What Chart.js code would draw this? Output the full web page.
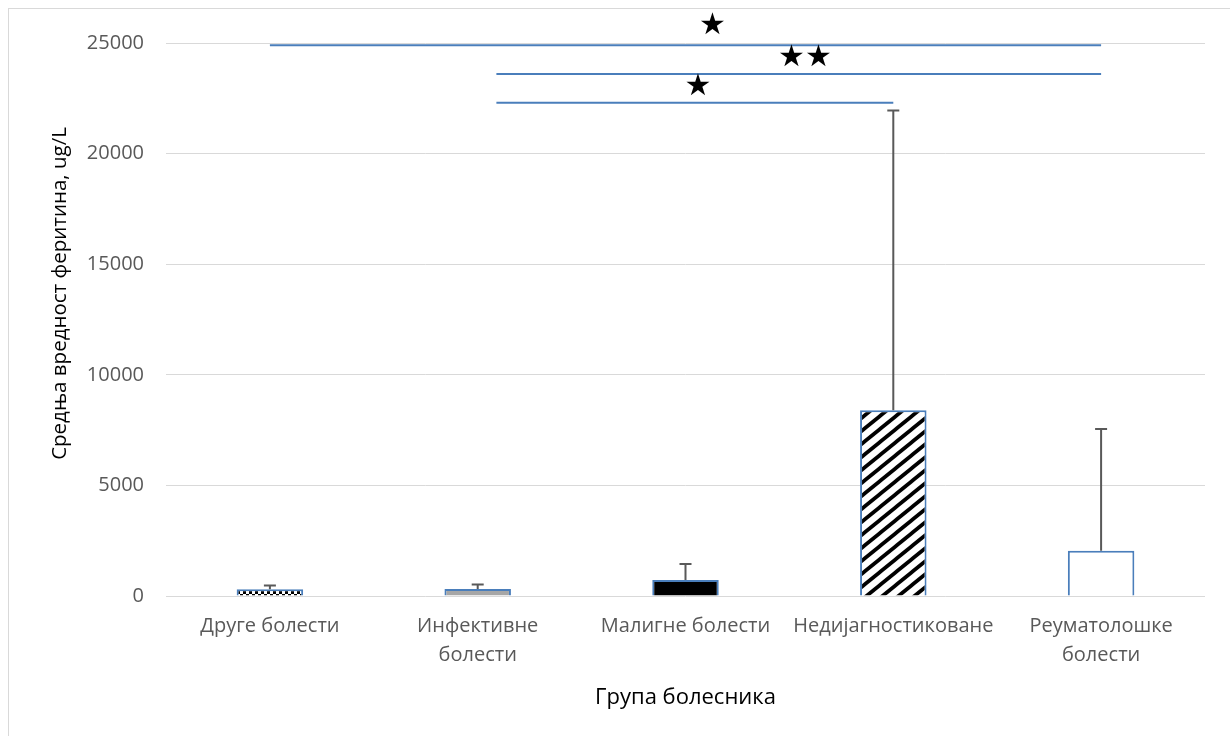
<!DOCTYPE html>
<html>
<head>
<meta charset="utf-8">
<script src="https://cdn.jsdelivr.net/npm/chart.js@4.4.0/dist/chart.umd.min.js"></script>
<style>
  html, body { margin: 0; padding: 0; background: #fff; overflow: hidden; }
  #frame { position: absolute; left: 8px; top: 8px; width: 1300px; height: 800px;
           border-left: 1px solid #d9d9d9; border-top: 1px solid #d9d9d9; }
  #wrap { position: absolute; left: 0; top: 0; width: 1230px; height: 736px; }
</style>
</head>
<body>
<div id="frame"></div>
<div id="wrap"><canvas id="chart"></canvas></div>
<script>
// Data
var categories = ['Друге болести', ['Инфективне', 'болести'], 'Малигне болести', 'Недијагностиковане', ['Реуматолошке', 'болести']];
var means = [300, 320, 720, 8400, 2050];
var errTops = [480, 520, 1450, 21950, 7550];
var yTicks = [0, 5000, 10000, 15000, 20000, 25000];
var yTitle = 'Средња вредност феритина, ug/L';
// significance brackets: from / to category index, y value
var sigFrom = [0, 1.09, 1.09];
var sigTo = [4, 4, 3];
var sigY = [24900, 23600, 22300];
// star marks: category position, y value
var starX = [2.13, 2.51, 2.64, 2.06];
var starY = [25750, 24300, 24300, 23000];

function makePattern(kind) {
    var c = document.createElement('canvas');
    var g = c.getContext('2d');
    if (kind === 'dots') {
        c.width = 6; c.height = 6;
        g.fillStyle = '#fff'; g.fillRect(0, 0, 6, 6);
        g.fillStyle = '#000';
        g.fillRect(0, 0, 3, 3);
        g.fillRect(3, 3, 3, 3);
    } else {
        // diagonal stripes, 13 px vertical period
        var w = 16, h = 13, t = 2.4;
        c.width = w; c.height = h;
        g.fillStyle = '#fff'; g.fillRect(0, 0, w, h);
        g.fillStyle = '#000';
        for (var k = -1; k <= 1; k++) {
            var o = h * k;
            g.beginPath();
            g.moveTo(0, h + o - t);
            g.lineTo(w, o - t);
            g.lineTo(w, o + t);
            g.lineTo(0, h + o + t);
            g.closePath();
            g.fill();
        }
    }
    return g.createPattern(c, 'repeat');
}

var fills = [makePattern('dots'), '#a6a6a6', '#000000', makePattern('stripes'), '#ffffff'];

var overlay = {
    id: 'overlay',
    afterDatasetsDraw: function (chart) {
        var ctx = chart.ctx, x = chart.scales.x, y = chart.scales.y;
        ctx.save();
        // error bars
        ctx.strokeStyle = '#595959';
        ctx.lineWidth = 2;
        for (var i = 0; i < means.length; i++) {
            var px = x.getPixelForValue(i);
            ctx.beginPath();
            ctx.moveTo(px, y.getPixelForValue(means[i]));
            ctx.lineTo(px, y.getPixelForValue(errTops[i]));
            ctx.moveTo(px - 6, y.getPixelForValue(errTops[i]));
            ctx.lineTo(px + 6, y.getPixelForValue(errTops[i]));
            ctx.stroke();
        }
        // significance lines
        ctx.strokeStyle = '#4a7ebb';
        ctx.lineWidth = 2;
        for (var j = 0; j < sigY.length; j++) {
            ctx.beginPath();
            ctx.moveTo(x.getPixelForValue(sigFrom[j]), y.getPixelForValue(sigY[j]));
            ctx.lineTo(x.getPixelForValue(sigTo[j]), y.getPixelForValue(sigY[j]));
            ctx.stroke();
        }
        ctx.fillStyle = '#000';
        ctx.font = '30px "DejaVu Sans"';
        ctx.textAlign = 'center';
        ctx.textBaseline = 'middle';
        for (var k = 0; k < starX.length; k++) {
            ctx.fillText('★', x.getPixelForValue(starX[k]), y.getPixelForValue(starY[k]));
        }
        // y axis title (sits a bit above the plot middle, like the original)
        ctx.translate(60, (chart.chartArea.top + chart.chartArea.bottom) / 2 - 26);
        ctx.rotate(-Math.PI / 2);
        ctx.font = '20.5px "Open Sans"';
        ctx.fillText(yTitle, 0, 0);
        ctx.restore();
    }
};

var ctx = document.getElementById('chart').getContext('2d');
var myChart = new Chart(ctx, {
    type: 'bar',
    data: {
        labels: categories,
        datasets: [{
            data: means,
            backgroundColor: fills,
            borderColor: '#4a7ebb',
            borderWidth: 2,
            barPercentage: 0.32,
            categoryPercentage: 1
        }]
    },
    options: {
        responsive: true,
        maintainAspectRatio: false,
        animation: false,
        layout: { padding: { left: 0, right: 25, top: 43, bottom: 0 } },
        plugins: { legend: { display: false }, tooltip: { enabled: false } },
        scales: {
            x: {
                grid: { display: false, drawTicks: false },
                border: { display: false },
                ticks: {
                    color: '#595959',
                    font: { family: 'Open Sans', size: 20, lineHeight: 1.45 },
                    padding: 16,
                    maxRotation: 0,
                    autoSkip: false
                },
                title: {
                    display: true,
                    text: 'Група болесника',
                    color: '#000',
                    font: { family: 'Open Sans', size: 22 },
                    padding: { top: 0, bottom: 25 }
                },
                afterFit: function (s) { s.height = 140; }
            },
            y: {
                min: 0,
                max: 25000,
                grid: { color: '#d9d9d9', lineWidth: 1, drawTicks: false },
                border: { display: false },
                afterBuildTicks: function (s) {
                    s.ticks = yTicks.map(function (v) { return { value: v }; });
                },
                ticks: {
                    color: '#595959',
                    font: { family: 'Open Sans', size: 20 },
                    padding: 22,
                    callback: function (v) { return String(v); }
                },
                title: { display: false },
                afterFit: function (s) { s.width = 166; }
            }
        }
    },
    plugins: [overlay]
});
</script>
</body>
</html>
